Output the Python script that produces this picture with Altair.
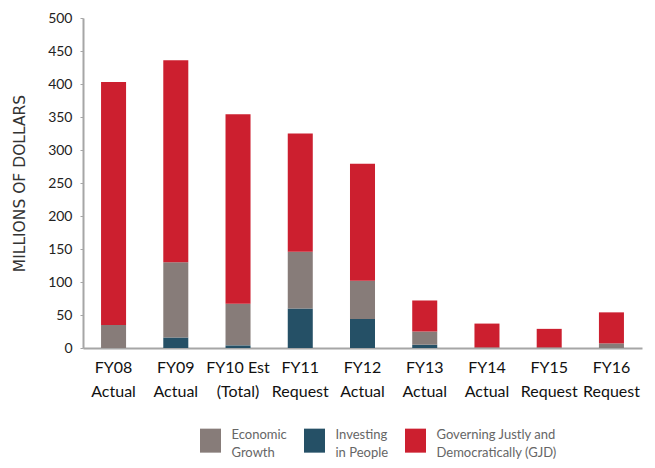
import altair as alt
import pandas as pd

categories = ["FY08\nActual", "FY09\nActual", "FY10 Est\n(Total)", "FY11\nRequest",
              "FY12\nActual", "FY13\nActual", "FY14\nActual", "FY15\nRequest", "FY16\nRequest"]
investing = [0, 16, 4, 60, 44, 5, 0, 0, 0]
economic = [35, 114, 63, 86, 58, 20, 1, 1, 7]
gjd = [368, 306, 287, 179, 177, 47, 36, 28, 47]

series = ["Economic\nGrowth", "Investing\nin People", "Governing Justly and\nDemocratically (GJD)"]
colors = ["#877c79", "#255066", "#cc1f2f"]

rows = []
for i, c in enumerate(categories):
    rows.append({"cat": c, "series": series[1], "value": investing[i], "ord": 0})
    rows.append({"cat": c, "series": series[0], "value": economic[i], "ord": 1})
    rows.append({"cat": c, "series": series[2], "value": gjd[i], "ord": 2})
df = pd.DataFrame(rows)

FONT = "Lato"
symbol_path = "M-0.875,-0.55L0.875,-0.55L0.875,1.45L-0.875,1.45Z"

chart = alt.Chart(df).mark_bar().encode(
    x=alt.X("cat:N", sort=categories, title=None,
            scale=alt.Scale(paddingInner=0.598, paddingOuter=0.29),
            axis=alt.Axis(labelAngle=0, labelExpr="split(datum.label, '\\n')", ticks=False,
                          domainColor="#a6a6a6", domainWidth=2, labelFontSize=16,
                          labelColor="#111111", labelPadding=11, labelLineHeight=24,
                          labelFont=FONT, labelBaseline="top")),
    y=alt.Y("value:Q", stack="zero", title="MILLIONS OF DOLLARS",
            scale=alt.Scale(domain=[0, 500], nice=False),
            axis=alt.Axis(values=list(range(0, 501, 50)), grid=False, domainColor="#a6a6a6",
                          domainWidth=2, tickColor="#a6a6a6", tickSize=3, labelFontSize=14,
                          labelColor="#222222", labelFont=FONT, labelPadding=8,
                          titleFont="DejaVu Sans", titleFontSize=15.5, titleFontWeight="normal",
                          titleColor="#333333", titlePadding=20)),
    color=alt.Color("series:N", scale=alt.Scale(domain=series, range=colors),
                    legend=alt.Legend(title=None, orient="none", legendX=115.5, legendY=405,
                                      direction="horizontal", columns=3, symbolType=symbol_path,
                                      symbolSize=576, symbolStrokeWidth=0, symbolOpacity=1,
                                      labelFontSize=13, labelColor="#666666", labelFont=FONT,
                                      labelOffset=9, columnPadding=15, padding=0,
                                      labelLimit=300,
                                      labelExpr="split(datum.label, '\\n')")),
    order=alt.Order("ord:Q"),
).properties(
    width=559, height=330,
    autosize=alt.AutoSizeParams(type="none"),
    padding={"left": 75, "top": 10, "right": 5, "bottom": 112},
).configure(
    background="white",
    style={"guide-label": {"lineHeight": 17.5}},
).configure_view(stroke=None)

chart.save("out.html", embed_options={"renderer": "svg", "actions": False})
